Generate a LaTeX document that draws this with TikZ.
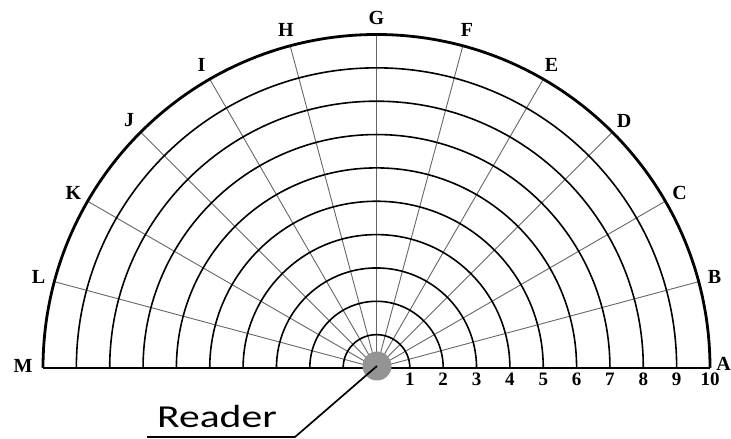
\documentclass[tikz,border=0pt]{standalone}
\usepackage{fontspec}
\setmainfont{Liberation Serif}
\newfontfamily\readerfont{Carlito}
\usetikzlibrary{positioning}
\tikzset{
  ring/.style    = {line width=1.6pt, draw=black},
  rim/.style     = {line width=2.8pt, draw=black},
  spoke/.style   = {line width=0.9pt, draw=black!60},
  baseln/.style  = {line width=1.9pt, draw=black},
  dirlbl/.style  = {font=\fontsize{20}{20}\selectfont\bfseries, inner sep=0pt},
  distlbl/.style = {font=\fontsize{19}{19}\selectfont\bfseries, inner sep=0pt},
  readerdot/.style = {circle, fill=black!42, minimum size=29pt, inner sep=0pt},
  leader/.style  = {line width=1.7pt, draw=black}
}

\begin{document}
\begin{tikzpicture}[x=1pt,y=1pt]
  \useasboundingbox (0,0) rectangle (731,439);

  \begin{scope}[shift={(376.5,71)}]
    % Spokes every 15 degrees
    \foreach \a in {15,30,...,165}
      \draw[spoke] (0,0) -- (\a:333.5);

    % Distance rings 1..9 and outer rim
    \foreach \k in {1,...,9}
      \draw[ring] (\k*33.35,0) arc[start angle=0, end angle=180, radius=\k*33.35];
    \draw[rim] (333.5,0) arc[start angle=0, end angle=180, radius=333.5];
    \draw[baseln] (-333.5,0) -- (333.5,0);

    % Direction letters
    \node[dirlbl, anchor=east] (dA) at (354.5,4) {A};
    \foreach \l [count=\i] in {B,C,D,E,F,G,H,I,J,K,L}
      \node[dirlbl] (d\l) at (\i*15:350) {\l};
    \node[dirlbl] (dM) at (-353.5,2) {M};

    % Distance numbers
    \foreach \k in {1,...,10}
      \node[distlbl] (n\k) at (\k*33.35,-11) {\k};

    % Reader at the centre
    \node[readerdot] (rd) at (0.5,2) {};
  \end{scope}

  % Reader caption with its leader line
  \node[anchor=base west, inner sep=0pt, font=\readerfont\fontsize{32}{32}\selectfont]
    (rtxt) at (157,11) {\scalebox{1.3}[1]{Reader}};
  \coordinate (ul) at (147,2);
  \coordinate (ur) at (295,2);
  \draw[leader] (ul) -- (ur) -- (rd.center);
\end{tikzpicture}
\end{document}
